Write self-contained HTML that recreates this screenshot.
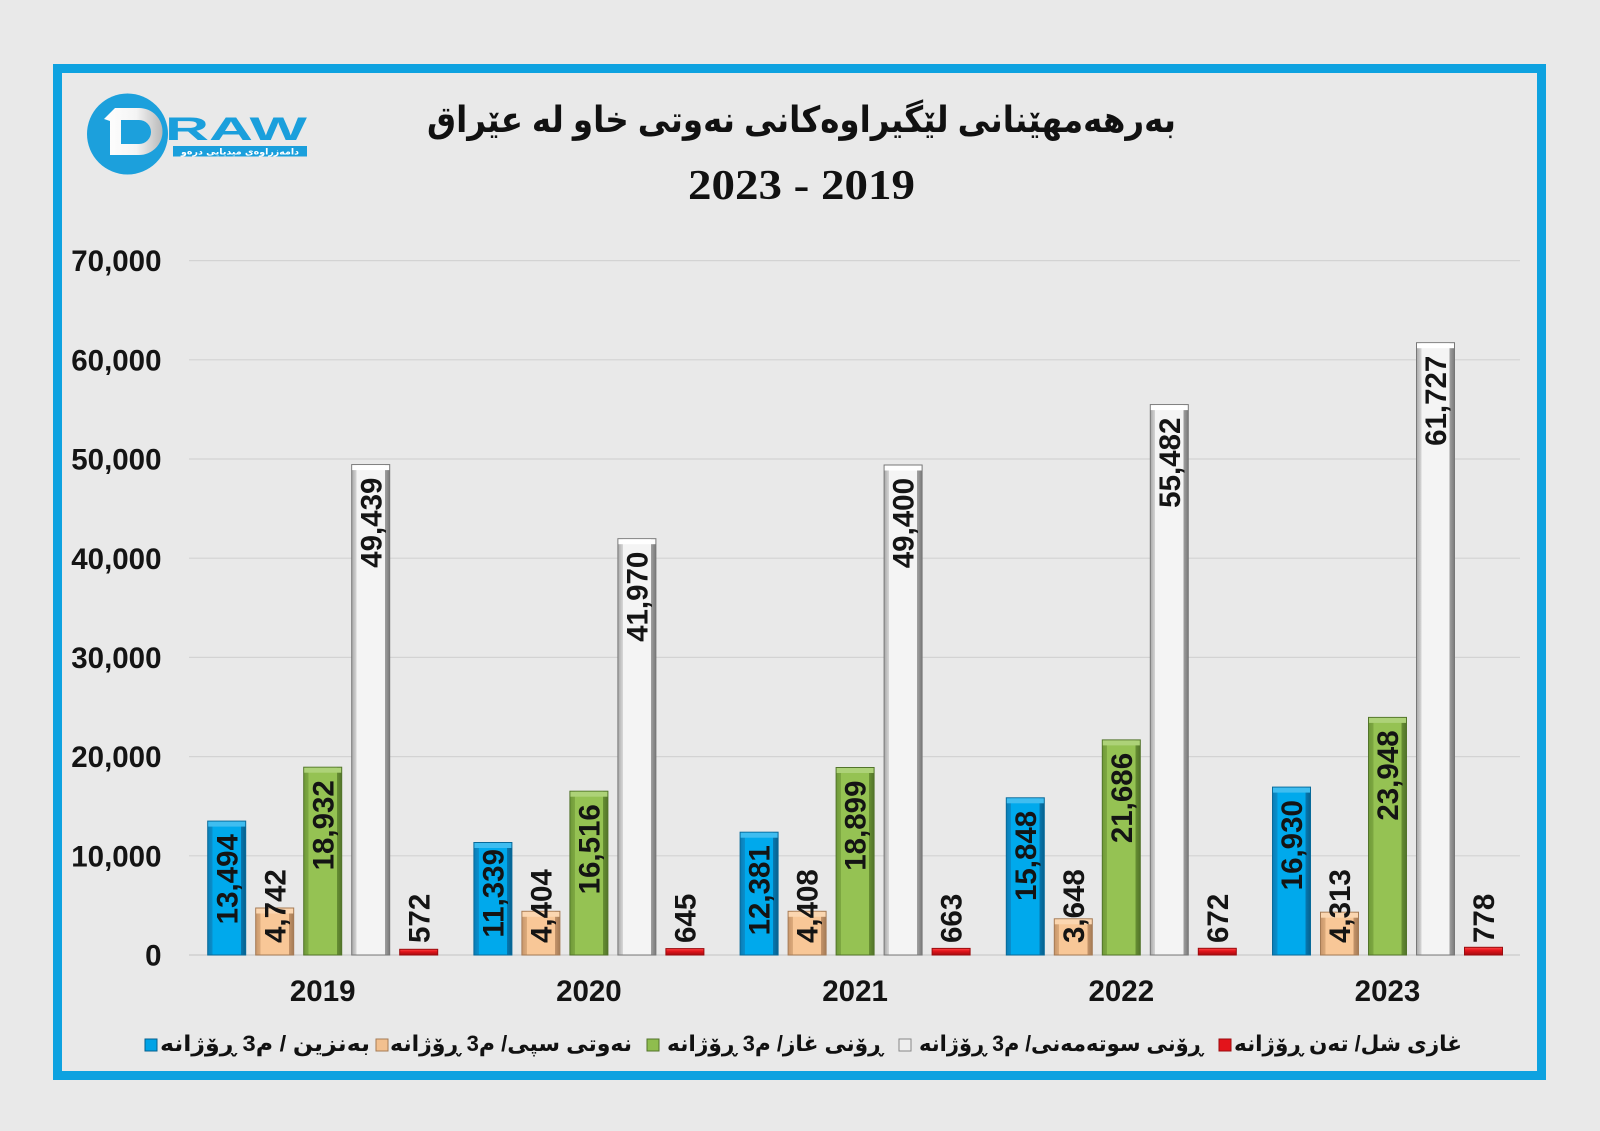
<!DOCTYPE html>
<html><head><meta charset="utf-8">
<style>
html,body{margin:0;padding:0;background:#e9e9e9;}
svg{display:block;}
.n{font-family:"Liberation Sans",Arial,sans-serif;font-weight:bold;fill:#141414;}
.ar{font-family:"Liberation Sans","DejaVu Sans",sans-serif;font-weight:bold;fill:#111;}
</style></head>
<body>
<svg width="1600" height="1131" viewBox="0 0 1600 1131" xmlns="http://www.w3.org/2000/svg">
<defs>
<linearGradient id="gB" x1="0" y1="0" x2="1" y2="0">
<stop offset="0" stop-color="#0a7db6"/><stop offset="0.13" stop-color="#0a8fcc"/><stop offset="0.13" stop-color="#00a9ec"/><stop offset="0.87" stop-color="#00a9ec"/><stop offset="0.87" stop-color="#0778b0"/><stop offset="1" stop-color="#05608e"/></linearGradient>
<linearGradient id="gT" x1="0" y1="0" x2="1" y2="0">
<stop offset="0" stop-color="#c8966a"/><stop offset="0.13" stop-color="#dcab7c"/><stop offset="0.13" stop-color="#f8c797"/><stop offset="0.87" stop-color="#f8c797"/><stop offset="0.87" stop-color="#c4946a"/><stop offset="1" stop-color="#a57b55"/></linearGradient>
<linearGradient id="gG" x1="0" y1="0" x2="1" y2="0">
<stop offset="0" stop-color="#6f9a38"/><stop offset="0.13" stop-color="#7ea842"/><stop offset="0.13" stop-color="#95c253"/><stop offset="0.87" stop-color="#95c253"/><stop offset="0.87" stop-color="#678f33"/><stop offset="1" stop-color="#52742a"/></linearGradient>
<linearGradient id="gW" x1="0" y1="0" x2="1" y2="0">
<stop offset="0" stop-color="#a8a8a8"/><stop offset="0.13" stop-color="#d6d6d6"/><stop offset="0.13" stop-color="#f4f4f4"/><stop offset="0.87" stop-color="#f4f4f4"/><stop offset="0.87" stop-color="#a0a0a0"/><stop offset="1" stop-color="#7a7a7a"/></linearGradient>
<linearGradient id="gR" x1="0" y1="0" x2="0" y2="1">
<stop offset="0" stop-color="#ff4a4a"/><stop offset="0.4" stop-color="#e3141b"/><stop offset="1" stop-color="#a50c10"/></linearGradient>
<linearGradient id="gD" x1="0" y1="0" x2="1" y2="0">
<stop offset="0" stop-color="#ffffff"/><stop offset="0.55" stop-color="#f4f4f4"/><stop offset="1" stop-color="#b9b9b9"/></linearGradient>
</defs>

<rect x="0" y="0" width="1600" height="1131" fill="#e9e9e9"/>
<rect x="57.5" y="68.5" width="1484" height="1007" fill="#e9e9e9" stroke="#0ea2e0" stroke-width="9"/>

<!-- logo -->
<circle cx="127.5" cy="134" r="40.5" fill="#1ca0dc"/>
<path d="M104,119 L115,108 L139,108 A23.5,23.5 0 0 1 139,155 L110,155 L110,121 Z M121,120 L139,120 A12,12 0 0 1 139,144 L121,144 Z" fill="url(#gD)" fill-rule="evenodd"/>
<text x="165" y="140" font-family="Liberation Sans,Arial,sans-serif" font-weight="bold" font-size="32" fill="#1a9fdc" textLength="142" lengthAdjust="spacingAndGlyphs">RAW</text>
<rect x="173" y="146" width="134" height="10.5" fill="#1a9fdc"/>
<text x="240" y="154.5" text-anchor="middle" font-family="DejaVu Sans,sans-serif" font-weight="bold" font-size="8.5" fill="#fff" direction="rtl" textLength="118" lengthAdjust="spacingAndGlyphs">دامەزراوەی میدیایی درەو</text>

<!-- title -->
<text class="ar" x="801.5" y="132" font-size="36" text-anchor="middle" direction="rtl" textLength="749" lengthAdjust="spacingAndGlyphs">بەرهەمهێنانی لێگیراوەکانی نەوتی خاو لە عێراق</text>
<text x="801.5" y="199" font-family="Liberation Serif,'Times New Roman',serif" font-weight="bold" font-size="42" fill="#111" text-anchor="middle" textLength="227" lengthAdjust="spacingAndGlyphs">2023 - 2019</text>

<!-- grid -->
<g stroke="#d3d3d3" stroke-width="1.2">
<line x1="189" y1="260.6" x2="1520" y2="260.6"/>
<line x1="189" y1="359.8" x2="1520" y2="359.8"/>
<line x1="189" y1="459" x2="1520" y2="459"/>
<line x1="189" y1="558.2" x2="1520" y2="558.2"/>
<line x1="189" y1="657.4" x2="1520" y2="657.4"/>
<line x1="189" y1="756.6" x2="1520" y2="756.6"/>
<line x1="189" y1="855.8" x2="1520" y2="855.8"/>
<line x1="189" y1="955" x2="1520" y2="955" stroke="#cacaca"/>
</g>

<!-- y labels -->
<g class="n" font-size="29.5" text-anchor="end">
<text x="161.5" y="260.6" dy="0.36em">70,000</text>
<text x="161.5" y="359.8" dy="0.36em">60,000</text>
<text x="161.5" y="459" dy="0.36em">50,000</text>
<text x="161.5" y="558.2" dy="0.36em">40,000</text>
<text x="161.5" y="657.4" dy="0.36em">30,000</text>
<text x="161.5" y="756.6" dy="0.36em">20,000</text>
<text x="161.5" y="855.8" dy="0.36em">10,000</text>
<text x="161.5" y="955" dy="0.36em">0</text>
</g>

<!-- bars -->
<g stroke-width="1">
<!-- 2019 -->
<rect x="207.7" y="821.1" width="38" height="133.9" fill="url(#gB)" stroke="#086a9a"/>
<rect x="208.2" y="821.6" width="37" height="5" fill="#3fbdf0"/>
<rect x="255.7" y="908" width="38" height="47" fill="url(#gT)" stroke="#a57b55"/>
<rect x="256.2" y="908.5" width="37" height="5" fill="#fbd6b0"/>
<rect x="303.7" y="767.2" width="38" height="187.8" fill="url(#gG)" stroke="#52742a"/>
<rect x="304.2" y="767.7" width="37" height="5" fill="#add278"/>
<rect x="351.7" y="464.6" width="38" height="490.4" fill="url(#gW)" stroke="#777"/>
<rect x="352.2" y="465.1" width="37" height="5" fill="#ffffff"/>
<rect x="399.7" y="949.3" width="38" height="5.7" fill="url(#gR)" stroke="#9a0b0e"/>
<!-- 2020 -->
<rect x="473.9" y="842.5" width="38" height="112.5" fill="url(#gB)" stroke="#086a9a"/>
<rect x="474.4" y="843" width="37" height="5" fill="#3fbdf0"/>
<rect x="521.9" y="911.3" width="38" height="43.7" fill="url(#gT)" stroke="#a57b55"/>
<rect x="522.4" y="911.8" width="37" height="5" fill="#fbd6b0"/>
<rect x="569.9" y="791.2" width="38" height="163.8" fill="url(#gG)" stroke="#52742a"/>
<rect x="570.4" y="791.7" width="37" height="5" fill="#add278"/>
<rect x="617.9" y="538.7" width="38" height="416.3" fill="url(#gW)" stroke="#777"/>
<rect x="618.4" y="539.2" width="37" height="5" fill="#ffffff"/>
<rect x="665.9" y="948.6" width="38" height="6.4" fill="url(#gR)" stroke="#9a0b0e"/>
<!-- 2021 -->
<rect x="740.1" y="832.2" width="38" height="122.8" fill="url(#gB)" stroke="#086a9a"/>
<rect x="740.6" y="832.7" width="37" height="5" fill="#3fbdf0"/>
<rect x="788.1" y="911.3" width="38" height="43.7" fill="url(#gT)" stroke="#a57b55"/>
<rect x="788.6" y="911.8" width="37" height="5" fill="#fbd6b0"/>
<rect x="836.1" y="767.5" width="38" height="187.5" fill="url(#gG)" stroke="#52742a"/>
<rect x="836.6" y="768" width="37" height="5" fill="#add278"/>
<rect x="884.1" y="465" width="38" height="490" fill="url(#gW)" stroke="#777"/>
<rect x="884.6" y="465.5" width="37" height="5" fill="#ffffff"/>
<rect x="932.1" y="948.4" width="38" height="6.6" fill="url(#gR)" stroke="#9a0b0e"/>
<!-- 2022 -->
<rect x="1006.3" y="797.8" width="38" height="157.2" fill="url(#gB)" stroke="#086a9a"/>
<rect x="1006.8" y="798.3" width="37" height="5" fill="#3fbdf0"/>
<rect x="1054.3" y="918.8" width="38" height="36.2" fill="url(#gT)" stroke="#a57b55"/>
<rect x="1054.8" y="919.3" width="37" height="5" fill="#fbd6b0"/>
<rect x="1102.3" y="739.9" width="38" height="215.1" fill="url(#gG)" stroke="#52742a"/>
<rect x="1102.8" y="740.4" width="37" height="5" fill="#add278"/>
<rect x="1150.3" y="404.6" width="38" height="550.4" fill="url(#gW)" stroke="#777"/>
<rect x="1150.8" y="405.1" width="37" height="5" fill="#ffffff"/>
<rect x="1198.3" y="948.3" width="38" height="6.7" fill="url(#gR)" stroke="#9a0b0e"/>
<!-- 2023 -->
<rect x="1272.5" y="787.1" width="38" height="167.9" fill="url(#gB)" stroke="#086a9a"/>
<rect x="1273" y="787.6" width="37" height="5" fill="#3fbdf0"/>
<rect x="1320.5" y="912.2" width="38" height="42.8" fill="url(#gT)" stroke="#a57b55"/>
<rect x="1321" y="912.7" width="37" height="5" fill="#fbd6b0"/>
<rect x="1368.5" y="717.4" width="38" height="237.6" fill="url(#gG)" stroke="#52742a"/>
<rect x="1369" y="717.9" width="37" height="5" fill="#add278"/>
<rect x="1416.5" y="342.7" width="38" height="612.3" fill="url(#gW)" stroke="#777"/>
<rect x="1417" y="343.2" width="37" height="5" fill="#ffffff"/>
<rect x="1464.5" y="947.3" width="38" height="7.7" fill="url(#gR)" stroke="#9a0b0e"/>
</g>

<!-- bar labels -->
<g class="n" font-size="29.5">
<text transform="translate(226.7,834.1) rotate(-90)" text-anchor="end" dy="0.36em">13,494</text>
<text transform="translate(274.7,943) rotate(-90)" text-anchor="start" dy="0.36em">4,742</text>
<text transform="translate(322.7,780.2) rotate(-90)" text-anchor="end" dy="0.36em">18,932</text>
<text transform="translate(370.7,477.6) rotate(-90)" text-anchor="end" dy="0.36em">49,439</text>
<text transform="translate(418.7,943) rotate(-90)" text-anchor="start" dy="0.36em">572</text>

<text transform="translate(492.9,849) rotate(-90)" text-anchor="end" dy="0.36em">11,339</text>
<text transform="translate(540.9,943) rotate(-90)" text-anchor="start" dy="0.36em">4,404</text>
<text transform="translate(588.9,804.2) rotate(-90)" text-anchor="end" dy="0.36em">16,516</text>
<text transform="translate(636.9,551.7) rotate(-90)" text-anchor="end" dy="0.36em">41,970</text>
<text transform="translate(684.9,943) rotate(-90)" text-anchor="start" dy="0.36em">645</text>

<text transform="translate(759.1,845.2) rotate(-90)" text-anchor="end" dy="0.36em">12,381</text>
<text transform="translate(807.1,943) rotate(-90)" text-anchor="start" dy="0.36em">4,408</text>
<text transform="translate(855.1,780.5) rotate(-90)" text-anchor="end" dy="0.36em">18,899</text>
<text transform="translate(903.1,478) rotate(-90)" text-anchor="end" dy="0.36em">49,400</text>
<text transform="translate(951.1,943) rotate(-90)" text-anchor="start" dy="0.36em">663</text>

<text transform="translate(1025.3,810.8) rotate(-90)" text-anchor="end" dy="0.36em">15,848</text>
<text transform="translate(1073.3,943) rotate(-90)" text-anchor="start" dy="0.36em">3,648</text>
<text transform="translate(1121.3,752.9) rotate(-90)" text-anchor="end" dy="0.36em">21,686</text>
<text transform="translate(1169.3,417.6) rotate(-90)" text-anchor="end" dy="0.36em">55,482</text>
<text transform="translate(1217.3,943) rotate(-90)" text-anchor="start" dy="0.36em">672</text>

<text transform="translate(1291.5,800.1) rotate(-90)" text-anchor="end" dy="0.36em">16,930</text>
<text transform="translate(1339.5,943) rotate(-90)" text-anchor="start" dy="0.36em">4,313</text>
<text transform="translate(1387.5,730.4) rotate(-90)" text-anchor="end" dy="0.36em">23,948</text>
<text transform="translate(1435.5,355.7) rotate(-90)" text-anchor="end" dy="0.36em">61,727</text>
<text transform="translate(1483.5,943) rotate(-90)" text-anchor="start" dy="0.36em">778</text>
</g>

<!-- x labels -->
<g class="n" font-size="29.5" text-anchor="middle">
<text x="322.7" y="1001">2019</text>
<text x="588.9" y="1001">2020</text>
<text x="855.1" y="1001">2021</text>
<text x="1121.3" y="1001">2022</text>
<text x="1387.5" y="1001">2023</text>
</g>

<!-- legend -->
<g stroke-width="1">
<rect x="145" y="1039" width="12" height="12" fill="#00a3e6" stroke="#05608e"/>
<rect x="376" y="1039" width="12" height="12" fill="#f2c08f" stroke="#a57b55"/>
<rect x="647" y="1039" width="12" height="12" fill="#8fbd4e" stroke="#52742a"/>
<rect x="899" y="1039" width="12" height="12" fill="#eeeeee" stroke="#888"/>
<rect x="1219" y="1039" width="12" height="12" fill="#e3141b" stroke="#9a0b0e"/>
</g>
<g class="ar" font-size="22" text-anchor="middle">
<text x="265" y="1051" direction="rtl" textLength="210" lengthAdjust="spacingAndGlyphs">بەنزین / م3 ڕۆژانە</text>
<text x="511" y="1051" direction="rtl" textLength="242" lengthAdjust="spacingAndGlyphs">نەوتی سپی/ م3 ڕۆژانە</text>
<text x="775" y="1051" direction="rtl" textLength="216" lengthAdjust="spacingAndGlyphs">ڕۆنی غاز/ م3 ڕۆژانە</text>
<text x="1061" y="1051" direction="rtl" textLength="284" lengthAdjust="spacingAndGlyphs">ڕۆنی سوتەمەنی/ م3 ڕۆژانە</text>
<text x="1348" y="1051" direction="rtl" textLength="228" lengthAdjust="spacingAndGlyphs">غازی شل/ تەن ڕۆژانە</text>
</g>
</svg>
</body></html>
